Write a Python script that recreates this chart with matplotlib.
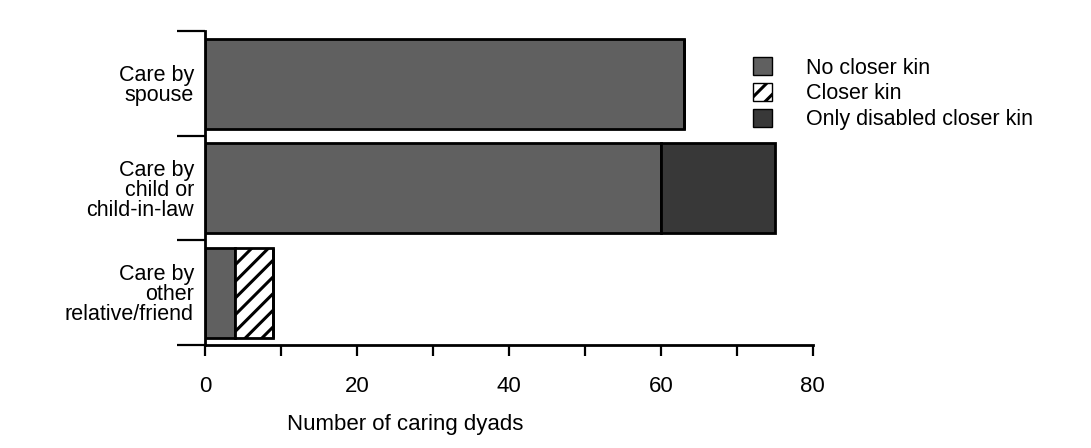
import numpy as np
import matplotlib.pyplot as plt
from matplotlib.patches import Patch

plt.rcParams['font.family'] = ['Liberation Sans', 'DejaVu Sans']
plt.rcParams['hatch.linewidth'] = 2.2

# data
categories = ['Care by\nspouse', 'Care by\nchild or\nchild-in-law', 'Care by\nother\nrelative/friend']
no_closer = [63, 60, 4]
closer = [0, 0, 5]
disabled_only = [0, 15, 0]
series_names = ['No closer kin', 'Closer kin', 'Only disabled closer kin']

fig = plt.figure(figsize=(10.91, 4.48), dpi=100)
ax = fig.add_axes([0.188, 0.23, 0.557, 0.70])

y = np.arange(len(categories))[::-1]  # spouse at top
h = 0.86
c_no = '#606060'
c_dis = '#383838'

ax.barh(y, no_closer, height=h, color=c_no, edgecolor='black', linewidth=2)
left = np.array(no_closer)
ax.barh(y, closer, left=left, height=h, color='white', edgecolor='black',
        hatch='//', linewidth=2)
left = left + np.array(closer)
ax.barh(y, disabled_only, left=left, height=h, color=c_dis, edgecolor='black', linewidth=2)

ax.set_xlim(0, 80)
ax.set_ylim(-0.5, 2.5)
ax.spines['top'].set_visible(False)
ax.spines['right'].set_visible(False)
ax.spines['left'].set_linewidth(2)
ax.spines['bottom'].set_linewidth(2)

ax.set_xticks([0, 20, 40, 60, 80])
ax.set_xticks([10, 30, 50, 70], minor=True)
ax.tick_params(axis='x', which='both', direction='out', length=8, width=1.6, labelsize=16, pad=14)

# y ticks at category boundaries, labels between them
ax.set_yticks([-0.5, 0.5, 1.5, 2.5])
ax.set_yticklabels([])
ax.tick_params(axis='y', which='major', direction='out', length=20, width=1.6)
ax.set_yticks(y, minor=True)
ax.set_yticklabels(categories, minor=True, fontsize=15.5, ha='right', linespacing=0.95)
ax.tick_params(axis='y', which='minor', length=0, pad=8)

ax.set_xlabel('Number of caring dyads', fontsize=16)
ax.xaxis.set_label_coords(0.33, -0.22)

handles = [Patch(facecolor=c_no, edgecolor='black'),
           Patch(facecolor='white', edgecolor='black', hatch='//'),
           Patch(facecolor=c_dis, edgecolor='black')]
fig.legend(handles, series_names, loc='upper left', bbox_to_anchor=(0.672, 0.915),
           frameon=False, fontsize=15.5, handlelength=0.9, handleheight=0.9,
           handletextpad=1.6, labelspacing=0.2)

fig.savefig('out.png', dpi=100)
